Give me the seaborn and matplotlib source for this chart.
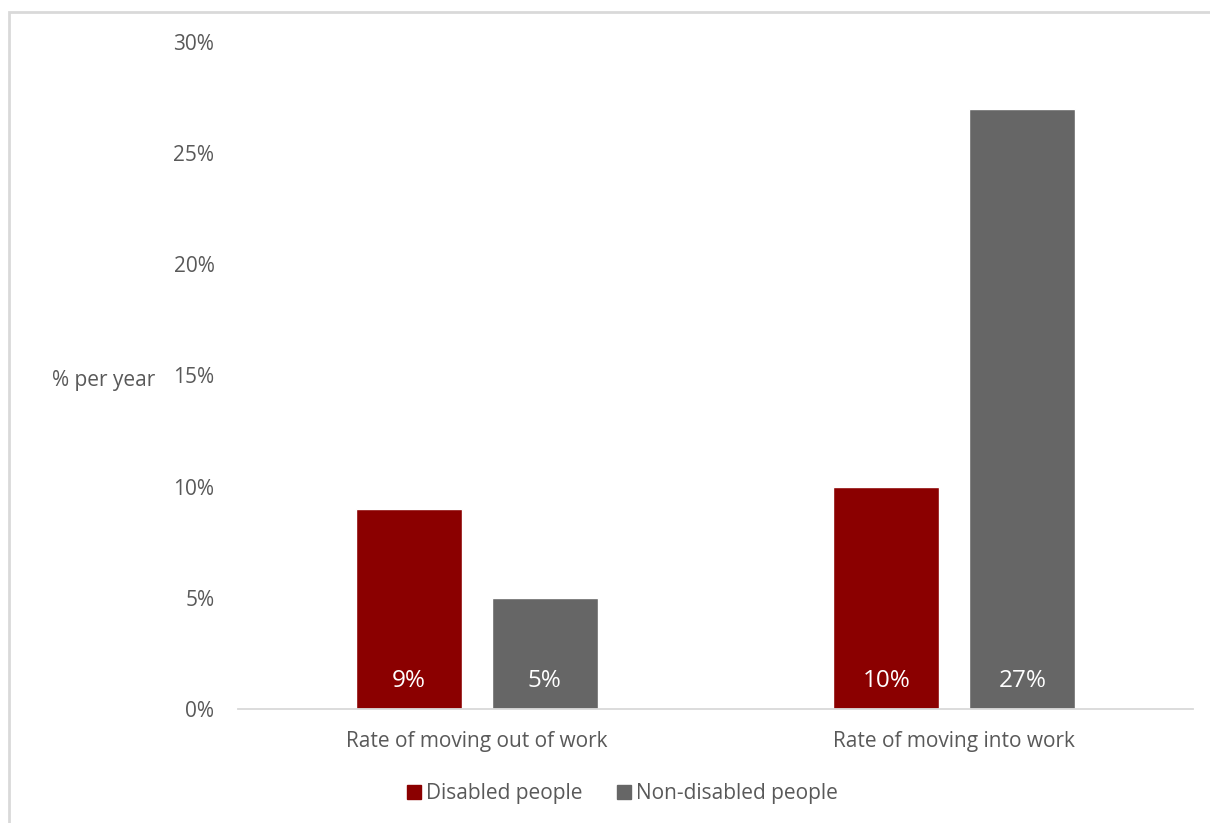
import pandas as pd
import matplotlib.pyplot as plt
import seaborn as sns
from matplotlib.lines import Line2D
from matplotlib.patches import Rectangle

# datos
categorias = ['Rate of moving out of work', 'Rate of moving into work']
grupos = ['Disabled people', 'Non-disabled people']
disabled = [9, 10]
non_disabled = [5, 27]
colores = ['#8B0000', '#666666']
texto_gris = '#595959'

df = pd.DataFrame({
    'categoria': categorias * 2,
    'grupo': [grupos[0]] * 2 + [grupos[1]] * 2,
    'valor': disabled + non_disabled,
})

sns.set_style('white')
plt.rcParams['font.family'] = ['Open Sans', 'DejaVu Sans']

fig = plt.figure(figsize=(12.1, 8.23), dpi=100)
ax = fig.add_axes([0.1967, 0.1385, 0.7893, 0.8105])

sns.barplot(data=df, x='categoria', y='valor', hue='grupo', palette=colores,
            width=0.57, gap=0.22, ax=ax, legend=False, saturation=1)

# etiquetas dentro de las barras
for cont in ax.containers:
    for barra in cont:
        ax.text(barra.get_x() + barra.get_width() / 2, 1.25,
                f'{barra.get_height():.0f}%', ha='center', va='center',
                color='white', fontsize=17.5)

ax.set_ylim(0, 30)
ax.set_xlim(-0.5, 1.5)
ax.set_yticks(range(0, 31, 5))
ax.set_yticklabels([f'{v}%' for v in range(0, 31, 5)])
ax.tick_params(axis='both', length=0, colors=texto_gris, labelsize=15)
ax.tick_params(axis='y', pad=17)
ax.tick_params(axis='x', pad=16)
ax.set_xlabel('')
ax.set_ylabel('% per year', rotation=0, fontsize=15, color=texto_gris,
              ha='center', va='center')
ax.yaxis.set_label_coords(-0.141, 0.493)

for lado in ['top', 'right', 'left']:
    ax.spines[lado].set_visible(False)
ax.spines['bottom'].set_color('#d9d9d9')
ax.spines['bottom'].set_linewidth(1.3)

# leyenda
handles = [Line2D([], [], marker='s', color=c, linestyle='', markersize=10)
           for c in colores]
fig.legend(handles, grupos, loc='center', bbox_to_anchor=(0.513, 0.036),
           ncol=2, frameon=False, fontsize=15, labelcolor=texto_gris,
           handletextpad=0.05, columnspacing=1.5, handlelength=1.0)

# marco del gráfico
fig.patches.append(Rectangle((9 / 1210, -0.05), 1.1, (823 - 12) / 823 + 0.05,
                             transform=fig.transFigure, fill=False,
                             edgecolor='#d9d9d9', linewidth=2))

plt.savefig('out.png', dpi=100)
